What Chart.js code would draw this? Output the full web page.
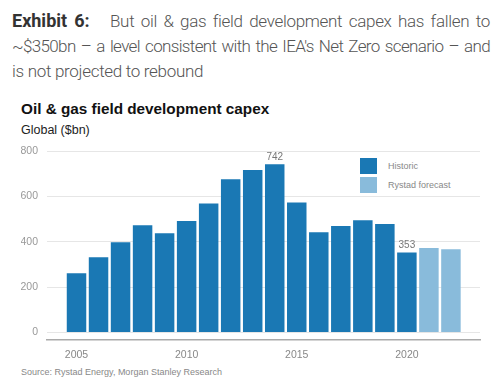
<!DOCTYPE html>
<html>
<head>
<meta charset="utf-8">
<script src="https://cdn.jsdelivr.net/npm/chart.js@4.4.1/dist/chart.umd.min.js"></script>
<style>
  html, body { margin: 0; padding: 0; background: #fff; }
  body { width: 499px; height: 386px; position: relative; overflow: hidden; }
  #head {
    position: absolute; left: 12px; top: 8px; width: 478px;
    font-family: Roboto, sans-serif; font-weight: 300; font-size: 17px;
    line-height: 25px; color: #555; letter-spacing: -0.3px;
  }
  #head .ln { white-space: nowrap; text-align: justify; text-align-last: justify; }
  #head .ln.last { text-align-last: left; }
  #head .ln.tight { letter-spacing: -0.65px; word-spacing: -1.5px; }
  #head b { font-weight: 700; font-size: 18px; color: #333; margin-right: 14px; letter-spacing: 0; }
  #title {
    position: absolute; left: 21px; top: 100px;
    font-family: "Liberation Sans", Arial, sans-serif; font-weight: 700; font-size: 15.3px; color: #111;
  }
  #sub {
    position: absolute; left: 21px; top: 123px;
    font-family: "Liberation Sans", Arial, sans-serif; font-size: 12.5px; color: #222;
  }
  #src {
    position: absolute; left: 21px; top: 367px;
    font-family: "Liberation Sans", Arial, sans-serif; font-size: 9px; color: #888;
  }
  #legend {
    position: absolute; left: 360px; top: 156px;
    font-family: "Liberation Sans", Arial, sans-serif; font-size: 9px; color: #888;
  }
  #legend div { height: 19px; display: flex; align-items: center; }
  #legend span.sw { display: inline-block; width: 17px; height: 16px; margin-right: 11px; }
  canvas { position: absolute; left: 0; top: 0; }
</style>
</head>
<body>
<div id="head">
  <div class="ln"><b>Exhibit 6:</b> But oil &amp; gas field development capex has fallen to</div>
  <div class="ln tight">~$350bn – a level consistent with the IEA's Net Zero scenario – and</div>
  <div class="ln last">is not projected to rebound</div>
</div>
<div id="title">Oil &amp; gas field development capex</div>
<div id="sub">Global ($bn)</div>
<div id="legend"></div>
<div id="src">Source: Rystad Energy, Morgan Stanley Research</div>
<canvas id="chart" width="499" height="386"></canvas>
<script>
// data
const histYears = [2005, 2006, 2007, 2008, 2009, 2010, 2011, 2012, 2013, 2014, 2015, 2016, 2017, 2018, 2019, 2020];
const histValues = [261, 332, 398, 473, 438, 492, 569, 676, 716, 742, 573, 442, 469, 495, 478, 353];
const fcYears = [2021, 2022];
const fcValues = [372, 367];
const yTicks = [0, 200, 400, 600, 800];
const xTicks = [2005, 2010, 2015, 2020];
const labelledYears = [2014, 2020];

const HIST = '#1a78b4';
const FC = '#89bbdb';

// simple value labels above selected bars
const valueLabels = {
    id: 'valueLabels',
    afterDatasetsDraw(chart) {
        const ctx = chart.ctx;
        const meta = chart.getDatasetMeta(0);
        ctx.save();
        ctx.font = '10px "Liberation Sans", Arial, sans-serif';
        ctx.fillStyle = '#777';
        ctx.textAlign = 'center';
        ctx.textBaseline = 'bottom';
        meta.data.forEach((bar, i) => {
            if (labelledYears.includes(histYears[i])) {
                ctx.fillText(String(histValues[i]), bar.x, bar.y - 2);
            }
        });
        ctx.restore();
    }
};

const chart = new Chart(document.getElementById('chart'), {
    type: 'bar',
    data: {
        datasets: [
            { label: 'Historic', data: histYears.map((y, i) => ({ x: y, y: histValues[i] })), backgroundColor: HIST },
            { label: 'Rystad forecast', data: fcYears.map((y, i) => ({ x: y, y: fcValues[i] })), backgroundColor: FC }
        ]
    },
    options: {
        responsive: false,
        animation: false,
        events: [],
        layout: { padding: { left: 21, right: 19, top: 151, bottom: 16 } },
        datasets: { bar: { grouped: false, categoryPercentage: 1, barPercentage: 0.885 } },
        plugins: { legend: { display: false }, tooltip: { enabled: false } },
        scales: {
            x: {
                type: 'linear',
                offset: false,
                min: 2003.66,
                max: 2023.32,
                afterBuildTicks: s => { s.ticks = xTicks.map(v => ({ value: v })); },
                afterFit: s => { s.height = 30; },
                grid: { display: false, drawTicks: false },
                border: { display: true, color: '#aaa', width: 1.5 },
                ticks: {
                    padding: 9,
                    color: '#888',
                    font: { family: '"Liberation Sans", Arial, sans-serif', size: 10.5 },
                    callback: v => String(v)
                }
            },
            y: {
                min: -33,
                max: 800,
                afterBuildTicks: s => { s.ticks = yTicks.map(v => ({ value: v })); },
                afterFit: s => { s.width = 26; },
                grid: { color: '#e6e6e6', drawTicks: false, lineWidth: 1 },
                border: { display: false },
                ticks: {
                    padding: 9,
                    color: '#999',
                    font: { family: '"Liberation Sans", Arial, sans-serif', size: 10.5 }
                }
            }
        }
    },
    plugins: [valueLabels]
});

// html legend built from the datasets
document.getElementById('legend').innerHTML = chart.data.datasets.map(d =>
    `<div><span class="sw" style="background:${d.backgroundColor}"></span>${d.label}</div>`
).join('');
</script>
</body>
</html>
